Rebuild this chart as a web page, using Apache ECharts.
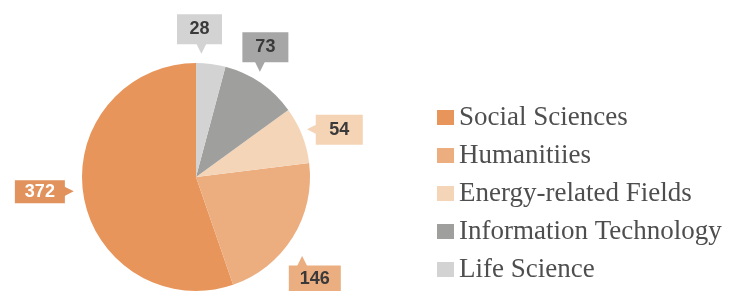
<!DOCTYPE html>
<html lang="en">
  <head>
    <meta charset="UTF-8" />
    <title>Enrolment by Field</title>
    <script src="https://cdn.jsdelivr.net/npm/echarts@6/dist/echarts.min.js"></script>
    <style>
      html, body { margin: 0; padding: 0; background: #fff; }
      #main { width: 731px; height: 291px; }
    </style>
  </head>
  <body>
    <div id="main"></div>
    <script>
      // chart data
      const categories = [
        "Social Sciences",
        "Humanitiies",
        "Energy-related Fields",
        "Information Technology",
        "Life Science",
      ];
      const values = [372, 146, 54, 73, 28];

      // colours
      const sliceColors = ["#e8955b", "#ecad7f", "#f5d5b8", "#9f9f9d", "#d3d3d3"];
      const boxColors = ["#e2925c", "#ebae80", "#f5d3b5", "#a6a6a6", "#d3d3d3"];
      const numColors = ["#ffffff", "#3a3a3a", "#3a3a3a", "#3a3a3a", "#3a3a3a"];

      // callout placement for each slice (label line lengths, arrow side)
      const callouts = [
        { fmt: (v) => `{b|${v}}{a|▶}`, len: 6, len2: 4, boxW: 50, boxH: 23, pad: [0, 0, 10, 0], arrowPad: [0, 0, 0, -2] },
        { fmt: (v) => `{a|▲}\n{b|${v}}`, len: 72, len2: -65, boxW: 52, boxH: 28, pad: 0, arrowPad: [0, 0, 0, 8] },
        { fmt: (v) => `{a|◀}{b|${v}}`, len: 15, len2: -9, boxW: 47, boxH: 30, pad: 0, arrowPad: [0, -2, 0, 0] },
        { fmt: (v) => `{b|${v}}\n{a|▼}`, len: 38.5, len2: -40, boxW: 46, boxH: 30, pad: 0, arrowPad: [0, 0, 0, 12] },
        { fmt: (v) => `{b|${v}}\n{a|▼}`, len: 31, len2: -37.9, boxW: 45, boxH: 30, pad: 0, arrowPad: [0, 0, 0, 19] },
      ];

      let myChart = echarts.init(document.getElementById("main"));

      let seriesData = categories.map((name, i) => {
        let c = callouts[i];
        return {
          name: name,
          value: values[i],
          itemStyle: { color: sliceColors[i] },
          label: {
            formatter: c.fmt(values[i]),
            distanceToLabelLine: 0,
            padding: c.pad,
            rich: {
              b: {
                width: c.boxW,
                height: c.boxH,
                lineHeight: c.boxH,
                align: "center",
                backgroundColor: boxColors[i],
                color: numColors[i],
                fontFamily: "Liberation Sans",
                fontWeight: "bold",
                fontSize: 18,
              },
              a: {
                color: boxColors[i],
                fontFamily: "DejaVu Sans",
                fontSize: 14,
                lineHeight: 8,
                padding: c.arrowPad,
              },
            },
          },
          labelLine: { length: c.len, length2: c.len2 },
        };
      });

      let options = {
        animation: false,
        legend: {
          orient: "vertical",
          left: 432,
          top: 99,
          itemWidth: 17,
          itemHeight: 15,
          itemGap: 11,
          icon: "rect",
          textStyle: {
            fontFamily: "Liberation Serif",
            fontSize: 27,
            color: "#4e4e4e",
          },
          data: categories,
        },
        series: [
          {
            name: "Fields",
            type: "pie",
            center: [196, 177],
            radius: 114,
            startAngle: 90,
            clockwise: false,
            avoidLabelOverlap: false,
            label: { show: true, position: "outside" },
            labelLine: { show: false },
            data: seriesData,
          },
        ],
      };

      myChart.setOption(options);
    </script>
  </body>
</html>
